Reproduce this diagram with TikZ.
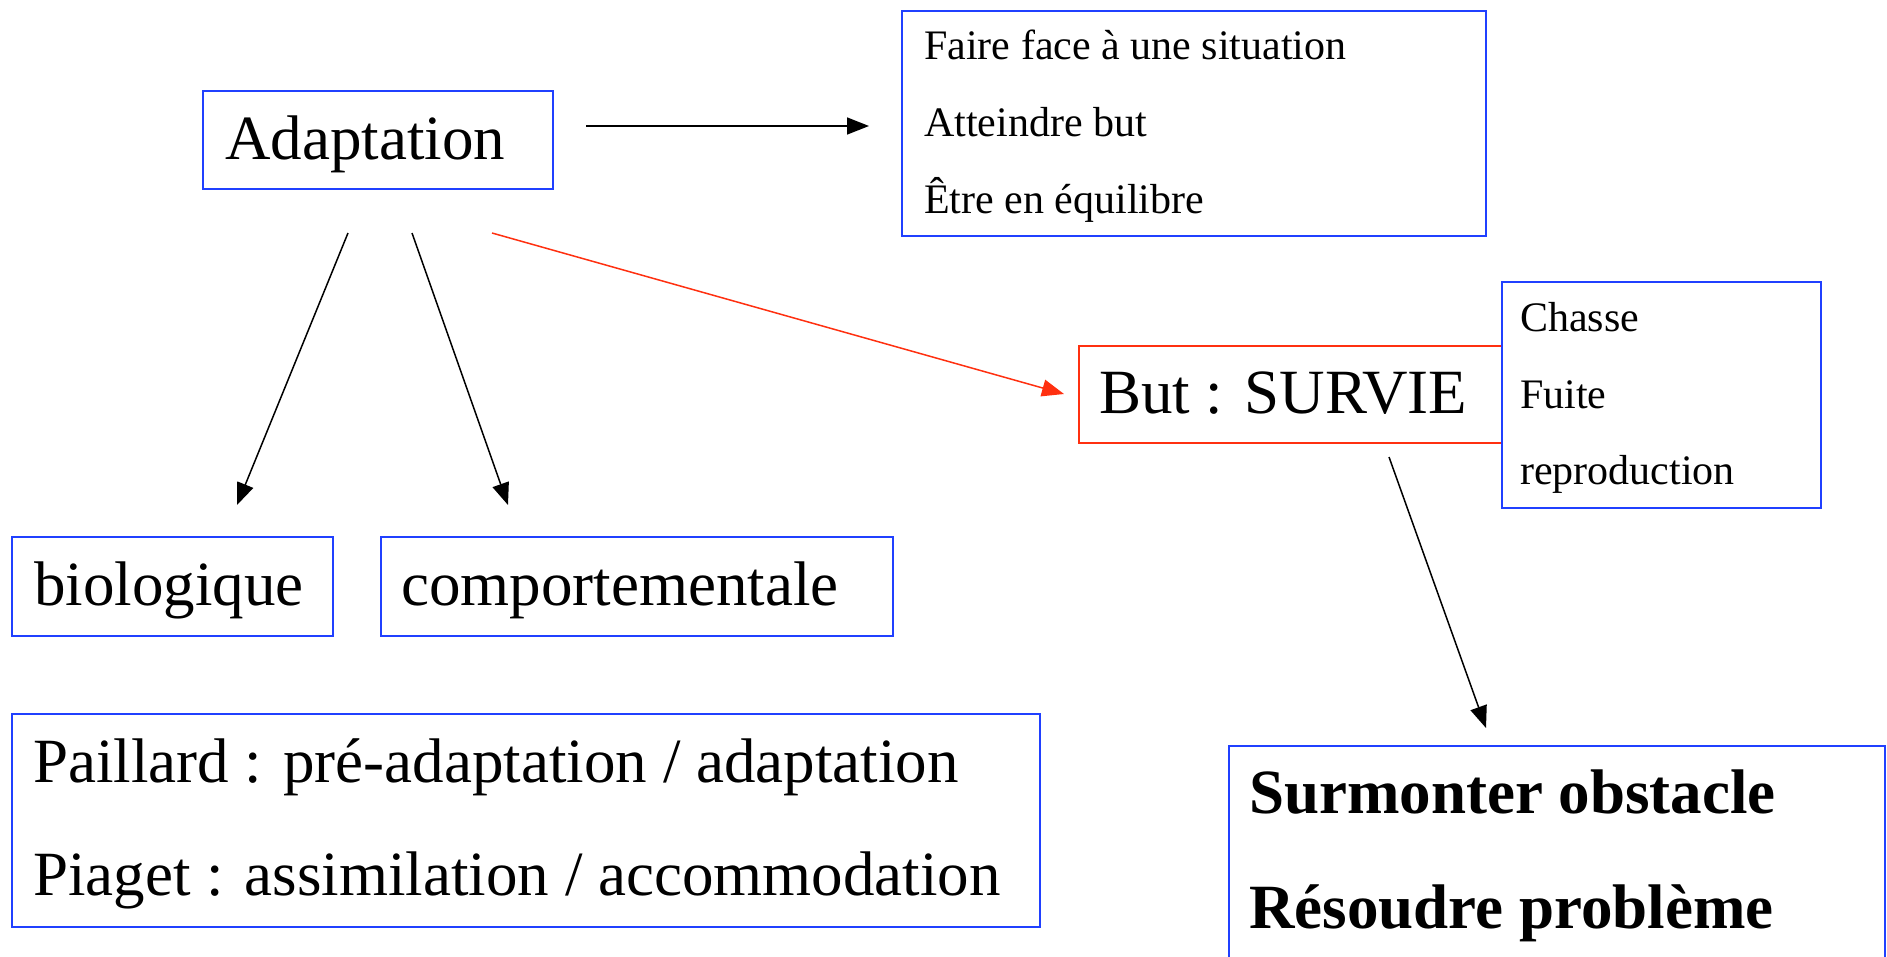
\documentclass[tikz,border=0pt]{standalone}
\usepackage{fontspec}
\setmainfont{Liberation Serif}
\usetikzlibrary{arrows.meta}
\definecolor{boxblue}{RGB}{32,64,255}
\definecolor{boxred}{RGB}{255,48,16}
\begin{document}
\begin{tikzpicture}[x=1pt,y=-1pt,
  box/.style={draw=boxblue,line width=2pt,rectangle,inner sep=0pt},
  redbox/.style={draw=boxred,line width=2pt,rectangle,inner sep=0pt},
  big/.style={anchor=base west,inner sep=0pt,font=\fontsize{63}{70}\selectfont},
  small/.style={anchor=base west,inner sep=0pt,font=\fontsize{42}{48}\selectfont},
  bigbold/.style={anchor=base west,inner sep=0pt,font=\fontsize{63}{70}\selectfont\bfseries},
  conn/.style={line width=1.5pt,-{Triangle[length=22pt,width=17pt]}},
  redconn/.style={conn,draw=boxred,fill=boxred}]
\useasboundingbox (0,0) rectangle (1887,956);
\clip (0,0) rectangle (1887,956);
% boxes
\node[box,minimum width=350pt,minimum height=98pt] (adapt) at (378,140) {};
\node[box,minimum width=584pt,minimum height=225pt] (goals) at (1194,123) {};
\node[redbox,minimum width=423pt,minimum height=97pt] (survie) at (1290.5,394.5) {};
\node[box,fill=white,minimum width=319pt,minimum height=226pt] (actions) at (1661.5,395) {};
\node[box,minimum width=321pt,minimum height=99pt] (bio) at (172.5,586.5) {};
\node[box,minimum width=512pt,minimum height=99pt] (comp) at (637,586.5) {};
\node[box,minimum width=1028pt,minimum height=213pt] (theories) at (526,820.5) {};
\node[box,minimum width=656pt,minimum height=244pt] (surm) at (1557,868) {};
% texts
\node[big] (tadapt) at (225,159) {Adaptation};
\node[small] (g1) at (924,59) {Faire face à une situation};
\node[small] (g2) at (924,136) {Atteindre but};
\node[small] (g3) at (924,213) {Être en équilibre};
\node[big] (tsurvie) at (1099,413) {But : SURVIE};
\node[small] (a1) at (1520,331) {Chasse};
\node[small] (a2) at (1520,408) {Fuite};
\node[small] (a3) at (1520,484) {reproduction};
\node[big] (tbio) at (34,605) {biologique};
\node[big] (tcomp) at (401,605) {comportementale};
\node[big] (t1) at (33,782) {Paillard : pré-adaptation / adaptation};
\node[big] (t2) at (33,895) {Piaget : assimilation / accommodation};
\node[bigbold] (s1) at (1249,813) {Surmonter obstacle};
\node[bigbold] (s2) at (1249,928) {Résoudre problème};
% connector ends
\coordinate (c0s) at (586,126);
\coordinate (c0e) at (869,126);
\coordinate (c1s) at (348,233);
\coordinate (c1e) at (237,505);
\coordinate (c2s) at (412,233);
\coordinate (c2e) at (508,505);
\coordinate (c3s) at (492,233);
\coordinate (c3e) at (1064,394);
\coordinate (c4s) at (1389,457);
\coordinate (c4e) at (1486,728);
\draw[conn] (c0s) -- (c0e);
\draw[conn] (c1s) -- (c1e);
\draw[conn] (c2s) -- (c2e);
\draw[redconn] (c3s) -- (c3e);
\draw[conn] (c4s) -- (c4e);
\end{tikzpicture}
\end{document}
